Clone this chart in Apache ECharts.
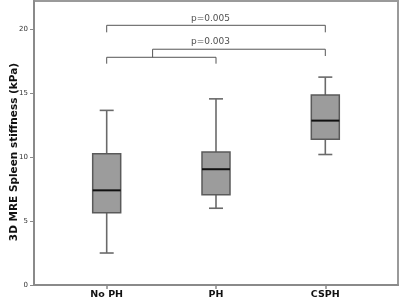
<!DOCTYPE html>
<html>
<head>
<meta charset="UTF-8">
<script src="https://cdn.jsdelivr.net/npm/echarts@6/dist/echarts.min.js"></script>
<style>
    html, body { margin: 0; padding: 0; background: #fff; }
    #container { width: 400px; height: 303px; }
</style>
</head>
<body>
<div id="container"></div>
<script>
    // 分组
    let categories = ['No PH', 'PH', 'CSPH'];
    // 箱线图数值 (kPa)
    let lowerWhisker = [2.5, 6.0, 10.2];
    let q1 = [5.65, 7.05, 11.4];
    let median = [7.4, 9.05, 12.85];
    let q3 = [10.25, 10.4, 14.85];
    let upperWhisker = [13.65, 14.55, 16.25];
    // 刻度
    let yTicks = [0, 5, 10, 15, 20];
    let xTicks = [0, 1, 2];
    // 显著性括号
    let bracketAllX = [0, 0, 2, 2];
    let bracketAllY = [19.75, 20.3, 20.3, 19.75];
    let bracketLowX = [0, 0, 1, 1];
    let bracketLowY = [17.3, 17.8, 17.8, 17.3];
    let bracketLinkX = [0.42, 0.42, 2, 2];
    let bracketLinkY = [17.8, 18.43, 18.43, 17.9];
    let pLabels = ['p=0.005', 'p=0.003'];
    let pLabelX = [0.95, 0.95];
    let pLabelY = [20.85, 19.0];

    function toPoints(xs, ys) {
        return xs.map(function(x, i) { return [x, ys[i]]; });
    }

    function bracketSeries(xs, ys) {
        return {
            type: 'line',
            data: toPoints(xs, ys),
            symbol: 'none',
            silent: true,
            lineStyle: { color: '#555', width: 1 },
            z: 3
        };
    }

    // 箱体绘制
    function renderBox(params, api) {
        let x = api.value(0);
        let pMin = api.coord([x, api.value(1)]);
        let pQ1 = api.coord([x, api.value(2)]);
        let pMed = api.coord([x, api.value(3)]);
        let pQ3 = api.coord([x, api.value(4)]);
        let pMax = api.coord([x, api.value(5)]);
        let cx = pMed[0];
        let half = 14, cap = 7;
        let whisker = { stroke: '#6a6a6a', lineWidth: 1.6 };
        return {
            type: 'group',
            children: [
                { type: 'line', shape: { x1: cx, y1: pMax[1], x2: cx, y2: pQ3[1] }, style: whisker },
                { type: 'line', shape: { x1: cx, y1: pQ1[1], x2: cx, y2: pMin[1] }, style: whisker },
                { type: 'line', shape: { x1: cx - cap, y1: pMax[1], x2: cx + cap, y2: pMax[1] }, style: whisker },
                { type: 'line', shape: { x1: cx - cap, y1: pMin[1], x2: cx + cap, y2: pMin[1] }, style: whisker },
                {
                    type: 'rect',
                    shape: { x: cx - half, y: pQ3[1], width: half * 2, height: pQ1[1] - pQ3[1] },
                    style: { fill: '#9c9c9c', stroke: '#5a5a5a', lineWidth: 1.5 }
                },
                { type: 'line', shape: { x1: cx - half, y1: pMed[1], x2: cx + half, y2: pMed[1] }, style: { stroke: '#111', lineWidth: 2 } }
            ]
        };
    }

    function getCharts() {
        let dom = document.getElementById('container');
        let myChart = echarts.init(dom, null, { renderer: 'canvas' });
        let boxData = categories.map(function(c, i) {
            return [i, lowerWhisker[i], q1[i], median[i], q3[i], upperWhisker[i]];
        });
        let labelData = pLabels.map(function(t, i) {
            return { value: [pLabelX[i], pLabelY[i]], name: t };
        });
        let option = {
            animation: false,
            grid: {
                left: 34, right: 2, top: 1, bottom: 18,
                containLabel: false,
                outerBoundsMode: 'none',
                show: true, borderColor: '#9a9a9a', borderWidth: 2, backgroundColor: '#fff'
            },
            xAxis: {
                type: 'value',
                min: -0.665,
                max: 2.665,
                splitLine: { show: false },
                axisLine: { show: true, onZero: false, lineStyle: { color: '#8a8a8a', width: 2 } },
                axisTick: { show: true, customValues: xTicks, length: 4, lineStyle: { color: '#8a8a8a', width: 1.5 } },
                axisLabel: {
                    customValues: xTicks,
                    margin: 5,
                    fontFamily: 'DejaVu Sans',
                    fontWeight: 'bold',
                    fontSize: 9.5,
                    color: '#111',
                    formatter: function(v) { return categories[Math.round(v)]; }
                }
            },
            yAxis: {
                type: 'value',
                min: 0,
                max: 22.2,
                interval: 5,
                name: '3D MRE Spleen stiffness (kPa)',
                nameLocation: 'middle',
                nameGap: 14,
                nameMoveOverlap: false,
                nameTextStyle: {
                    fontFamily: 'DejaVu Sans',
                    fontWeight: 'bold',
                    fontSize: 10.5,
                    color: '#111',
                    padding: [0, 18, 0, 0]
                },
                splitLine: { show: false },
                axisLine: { show: true, onZero: false, lineStyle: { color: '#8a8a8a', width: 2 } },
                axisTick: { show: true, customValues: yTicks, length: 4, lineStyle: { color: '#8a8a8a', width: 1 } },
                axisLabel: {
                    customValues: yTicks,
                    margin: 6,
                    fontFamily: 'DejaVu Sans',
                    fontSize: 7,
                    color: '#333'
                }
            },
            series: [
                {
                    type: 'custom',
                    renderItem: renderBox,
                    data: boxData,
                    encode: { x: 0, y: [1, 2, 3, 4, 5] },
                    z: 4
                },
                bracketSeries(bracketAllX, bracketAllY),
                bracketSeries(bracketLowX, bracketLowY),
                bracketSeries(bracketLinkX, bracketLinkY),
                {
                    type: 'scatter',
                    data: labelData,
                    symbolSize: 0,
                    silent: true,
                    label: {
                        show: true,
                        position: 'inside',
                        formatter: function(p) { return p.name; },
                        fontFamily: 'DejaVu Sans',
                        fontSize: 9,
                        color: '#222'
                    }
                }
            ]
        };
        myChart.setOption(option, true);
    }

    getCharts();
</script>
</body>
</html>
